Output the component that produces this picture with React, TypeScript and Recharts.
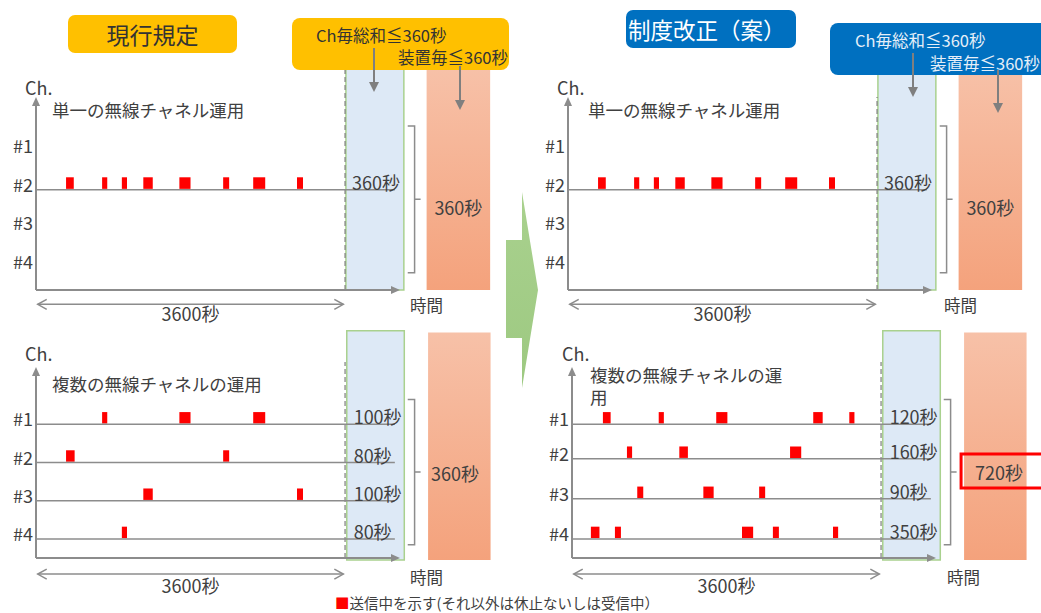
import React from 'react'
import {
  ComposedChart,
  XAxis,
  YAxis,
  ReferenceArea,
  ReferenceLine,
  ReferenceDot,
} from 'recharts'

const FONT = '"Noto Sans CJK JP", "Noto Sans", sans-serif'
const TEXT = '#404040'
const GRAY = '#8c8c8c'
const RED = '#ff0000'

// time axis in seconds: 3600 s window, the plot runs on a bit for the arrow head
const WINDOW = 3600
const X_MAX = 4240
const PLOT_W = 364
const PULSE_H = 0.3

type Pulse = [number, number]

const CH_LABELS = ['#1', '#2', '#3', '#4']

// single channel operation (same pattern in both panels), all on #2
const singlePulses: Pulse[] = [
  [350, 440], [770, 830], [1000, 1060], [1250, 1360],
  [1670, 1800], [2180, 2250], [2530, 2670], [3040, 3110],
]

// current rule, multi channel
const currentCh1: Pulse[] = [[770, 830], [1670, 1800], [2530, 2670]]
const currentCh2: Pulse[] = [[350, 450], [2180, 2250]]
const currentCh3: Pulse[] = [[1250, 1360], [3040, 3110]]
const currentCh4: Pulse[] = [[1000, 1060]]

// proposed rule, multi channel
const proposedCh1: Pulse[] = [[360, 450], [1010, 1070], [1680, 1810], [2810, 2920], [3230, 3290]]
const proposedCh2: Pulse[] = [[640, 700], [1250, 1350], [2540, 2670]]
const proposedCh3: Pulse[] = [[760, 830], [1530, 1650], [2180, 2250]]
const proposedCh4: Pulse[] = [[220, 320], [500, 570], [1980, 2110], [2340, 2410], [3040, 3100]]

const singleTotals = [null, '360秒', null, null]
const currentTotals = ['100秒', '80秒', '100秒', '80秒']
const proposedTotals = ['120秒', '160秒', '90秒', '350秒']
const deviceTotals = ['360秒', '360秒', '360秒', '720秒']

const arrowShape = (props: any) => {
  const { x1, y1, x2, y2 } = props
  const a = Math.atan2(y2 - y1, x2 - x1)
  const L = 9
  const W = 4
  const bx = x2 - L * Math.cos(a)
  const by = y2 - L * Math.sin(a)
  const px = -Math.sin(a) * W
  const py = Math.cos(a) * W
  return (
    <g>
      <line x1={x1} y1={y1} x2={bx} y2={by} stroke={GRAY} strokeWidth={2} />
      <polygon points={`${x2},${y2} ${bx + px},${by + py} ${bx - px},${by - py}`} fill={GRAY} />
    </g>
  )
}

const doubleArrowShape = (props: any) => {
  const { x1, y1, x2 } = props
  const y = y1
  return (
    <g fill="none" stroke={GRAY} strokeWidth={1.5}>
      <line x1={x1} y1={y} x2={x2} y2={y} />
      <polyline points={`${x1 + 9},${y - 5} ${x1},${y} ${x1 + 9},${y + 5}`} />
      <polyline points={`${x2 - 9},${y - 5} ${x2},${y} ${x2 - 9},${y + 5}`} />
    </g>
  )
}

const bracketShape = (props: any) => {
  const { x, y, width, height } = props
  const mid = y + height / 2
  return (
    <path
      d={`M${x},${y} H${x + width} V${y + height} H${x} M${x + width},${mid} h6`}
      fill="none"
      stroke={GRAY}
      strokeWidth={1.5}
    />
  )
}

const textShape =
  (text: string, size: number, anchor: 'start' | 'middle' | 'end', baseline: string, color = TEXT) =>
  (props: any) => (
    <text
      x={props.cx}
      y={props.cy}
      textAnchor={anchor}
      dominantBaseline={baseline}
      fontSize={size}
      fontFamily={FONT}
      fill={color}
    >
      {text}
    </text>
  )

type PanelProps = {
  id: string
  left: number
  top: number
  width: number
  height: number
  marginTop: number
  marginBottom: number
  levels: number[]
  pulses: Pulse[][]
  totals: (string | null)[]
  device: string
  highlight?: boolean
  blue: number[]
  orange: number[]
  dashTop: number
  totalX: number
  arrowY: number
  spanY: number
  timeAt: number[]
  deviceAt: number[]
}

function Panel(p: PanelProps) {
  const rows = p.levels.map((level) => ({ t: 0, level }))
  return (
    <div style={{ position: 'absolute', left: p.left, top: p.top }}>
      <ComposedChart
        width={p.width}
        height={p.height}
        data={rows}
        margin={{ top: p.marginTop, right: p.width - 36 - PLOT_W, bottom: p.marginBottom, left: 0 }}
      >
        <defs>
          <linearGradient id={`${p.id}-org`} x1="0" y1="0" x2="0" y2="1">
            <stop offset="0%" stopColor="#f7c1a8" />
            <stop offset="100%" stopColor="#f4a27c" />
          </linearGradient>
        </defs>
        <XAxis type="number" dataKey="t" domain={[0, X_MAX]} allowDataOverflow hide />
        <YAxis
          type="number"
          dataKey="level"
          domain={[0, 5]}
          allowDataOverflow
          ticks={p.levels}
          interval={0}
          width={36}
          axisLine={false}
          tickLine={false}
          tickSize={0}
          tickMargin={0}
          tick={({ x, y, payload }: any) => (
            <text
              x={x - 3}
              y={y - 6}
              textAnchor="end"
              dominantBaseline="central"
              fontSize={18}
              fontFamily={FONT}
              fill={TEXT}
            >
              {CH_LABELS[p.levels.indexOf(payload.value)]}
            </text>
          )}
        />

        {/* per-channel window and per-device total */}
        <ReferenceArea
          x1={p.blue[0]} x2={p.blue[1]} y1={p.blue[2]} y2={p.blue[3]}
          ifOverflow="visible" fill="#dde9f6" fillOpacity={1} stroke="#a9d18e" strokeWidth={1.5}
        />
        <ReferenceArea
          x1={p.orange[0]} x2={p.orange[1]} y1={p.orange[2]} y2={p.orange[3]}
          ifOverflow="visible" fill={`url(#${p.id}-org)`} fillOpacity={1}
        />
        <ReferenceArea
          x1={4330} x2={4410} y1={p.levels[3] - 0.15} y2={p.levels[0] + 0.65}
          ifOverflow="visible" shape={bracketShape}
        />
        {p.highlight && (
          <ReferenceArea
            x1={4532} x2={5560} y1={1.83} y2={2.72}
            ifOverflow="visible" fill="none" fillOpacity={0} stroke={RED} strokeWidth={3}
          />
        )}

        <ReferenceLine
          segment={[{ x: WINDOW, y: 0 }, { x: WINDOW, y: p.dashTop }]}
          ifOverflow="visible" stroke="#7f7f7f" strokeWidth={1.2} strokeDasharray="5 3"
        />
        {p.totals.map((tot, i) =>
          tot ? (
            <ReferenceLine
              key={`l${i}`}
              segment={[{ x: 0, y: p.levels[i] }, { x: 4180, y: p.levels[i] }]}
              ifOverflow="visible" stroke={GRAY} strokeWidth={1.5}
            />
          ) : null,
        )}
        <ReferenceLine segment={[{ x: 0, y: 0 }, { x: 0, y: 5 }]} ifOverflow="visible" shape={arrowShape} />
        <ReferenceLine segment={[{ x: 0, y: 0 }, { x: X_MAX, y: 0 }]} ifOverflow="visible" shape={arrowShape} />
        <ReferenceLine
          segment={[{ x: 20, y: p.arrowY }, { x: 3580, y: p.arrowY }]}
          ifOverflow="visible" shape={doubleArrowShape}
        />

        {p.pulses.map((list, ch) =>
          list.map(([s, e], k) => (
            <ReferenceArea
              key={`p${ch}-${k}`}
              x1={s} x2={e} y1={p.levels[ch] + 0.02} y2={p.levels[ch] + 0.02 + PULSE_H}
              fill={RED} fillOpacity={1}
            />
          )),
        )}

        {p.totals.map((tot, i) =>
          tot ? (
            <ReferenceDot
              key={`t${i}`} x={p.totalX} y={p.levels[i]} r={0} ifOverflow="visible"
              shape={textShape(tot, 18, 'start', 'auto')}
            />
          ) : null,
        )}
        <ReferenceDot
          x={WINDOW / 2} y={p.spanY} r={0} ifOverflow="visible"
          shape={textShape('3600秒', 18, 'middle', 'central')}
        />
        <ReferenceDot
          x={p.timeAt[0]} y={p.timeAt[1]} r={0} ifOverflow="visible"
          shape={textShape('時間', 16.5, 'start', 'central')}
        />
        <ReferenceDot
          x={p.deviceAt[0]} y={p.deviceAt[1]} r={0} ifOverflow="visible"
          shape={textShape(p.device, 18, 'middle', 'central')}
        />
      </ComposedChart>
    </div>
  )
}

const abs = (left: number, top: number, extra: React.CSSProperties = {}): React.CSSProperties => ({
  position: 'absolute',
  left,
  top,
  fontFamily: FONT,
  color: TEXT,
  whiteSpace: 'nowrap',
  ...extra,
})

function GrayArrow({ x, y1, y2 }: { x: number; y1: number; y2: number }) {
  return (
    <g>
      <line x1={x} y1={y1} x2={x} y2={y2 - 9} stroke="#7f7f7f" strokeWidth={2} />
      <polygon points={`${x},${y2} ${x - 5},${y2 - 10} ${x + 5},${y2 - 10}`} fill="#7f7f7f" />
    </g>
  )
}

export default function App() {
  const topPanel = {
    height: 330,
    marginTop: 97,
    marginBottom: 40,
    levels: [3.6, 2.6, 1.6, 0.6],
    blue: [3610, 4285, 0, 5.75],
    orange: [4550, 5290, 0, 5.75],
    totalX: 3680,
    arrowY: -0.37,
    spanY: -0.6,
    deviceAt: [4920, 2.15],
  }
  const bottomPanel = {
    height: 293,
    marginTop: 47,
    marginBottom: 55,
    blue: [3620, 4290, -0.05, 5.95],
    orange: [4567, 5295, -0.05, 5.9],
    dashTop: 5.13,
    totalX: 3700,
    arrowY: -0.42,
    spanY: -0.7,
  }

  return (
    <div
      style={{
        position: 'absolute',
        left: 0,
        top: 0,
        width: 1041,
        height: 613,
        background: '#fff',
        overflow: 'hidden',
        fontFamily: FONT,
      }}
    >
      <Panel
        id="tl" left={0} top={0} width={520} {...topPanel}
        pulses={[[], singlePulses, [], []]} totals={singleTotals} device={deviceTotals[0]}
        dashTop={5.7} timeAt={[4357, -0.39]}
      />
      <Panel
        id="tr" left={532} top={0} width={509} {...topPanel}
        pulses={[[], singlePulses, [], []]} totals={singleTotals} device={deviceTotals[1]}
        dashTop={5.0} timeAt={[4380, -0.39]}
      />
      <Panel
        id="bl" left={0} top={320} width={520} {...bottomPanel}
        levels={[3.5, 2.5, 1.5, 0.5]}
        pulses={[currentCh1, currentCh2, currentCh3, currentCh4]} totals={currentTotals}
        device={deviceTotals[2]} timeAt={[4357, -0.5]} deviceAt={[4881, 2.23]}
      />
      <Panel
        id="br" left={536} top={320} width={505} {...bottomPanel}
        levels={[3.5, 2.6, 1.55, 0.5]}
        pulses={[proposedCh1, proposedCh2, proposedCh3, proposedCh4]} totals={proposedTotals}
        device={deviceTotals[3]} highlight timeAt={[4369, -0.5]} deviceAt={[4975, 2.25]}
      />

      {/* axis and panel captions */}
      <div style={abs(25, 76, { fontSize: 18, lineHeight: '22px' })}>Ch.</div>
      <div style={abs(557, 76, { fontSize: 18, lineHeight: '22px' })}>Ch.</div>
      <div style={abs(25, 342, { fontSize: 18, lineHeight: '22px' })}>Ch.</div>
      <div style={abs(562, 342, { fontSize: 18, lineHeight: '22px' })}>Ch.</div>
      <div style={abs(52, 99, { fontSize: 17.5, lineHeight: '22px' })}>単一の無線チャネル運用</div>
      <div style={abs(588, 99, { fontSize: 17.5, lineHeight: '22px' })}>単一の無線チャネル運用</div>
      <div style={abs(52, 373, { fontSize: 17.5, lineHeight: '22px' })}>複数の無線チャネルの運用</div>
      <div style={abs(590, 364, { fontSize: 17.5, lineHeight: '22px', whiteSpace: 'normal', width: 200 })}>
        複数の無線チャネルの運用
      </div>

      {/* headers */}
      <div
        style={abs(68, 15, {
          width: 169, height: 38, background: '#ffc000', borderRadius: 7, color: '#333',
          fontSize: 23, lineHeight: '38px', textAlign: 'center',
        })}
      >
        現行規定
      </div>
      <div style={abs(292, 18, { width: 217, height: 52, background: '#ffc000', borderRadius: 8, color: '#333' })}>
        <div style={{ position: 'absolute', left: 24, top: 6, fontSize: 16.5, lineHeight: '22px' }}>Ch毎総和≦360秒</div>
        <div style={{ position: 'absolute', right: 1, top: 28, fontSize: 16.5, lineHeight: '22px' }}>装置毎≦360秒</div>
      </div>
      <div
        style={abs(626, 10, {
          width: 170, height: 38, background: '#0070c0', borderRadius: 7, color: '#fff',
          fontSize: 22.5, lineHeight: '38px', paddingLeft: 2, boxSizing: 'border-box',
        })}
      >
        制度改正（案）
      </div>
      <div style={abs(830, 23, { width: 230, height: 52, background: '#0070c0', borderRadius: 8, color: '#e6eff8' })}>
        <div style={{ position: 'absolute', left: 25, top: 6, fontSize: 16.5, lineHeight: '22px' }}>Ch毎総和≦360秒</div>
        <div style={{ position: 'absolute', left: 100, top: 29, fontSize: 16.5, lineHeight: '22px' }}>装置毎≦360秒</div>
      </div>

      {/* legend */}
      <div style={abs(335, 595, { fontSize: 14.5, lineHeight: '16px', color: TEXT })}>
        <span style={{ color: RED }}>■</span>送信中を示す(それ以外は休止ないしは受信中）
      </div>

      <svg width={1041} height={613} style={{ position: 'absolute', left: 0, top: 0, pointerEvents: 'none' }}>
        <defs>
          <linearGradient id="green" x1="0" y1="0" x2="0" y2="1">
            <stop offset="0%" stopColor="#a9d18e" />
            <stop offset="100%" stopColor="#9dc981" />
          </linearGradient>
        </defs>
        <polygon
          points="506,240 522,240 522,192 538,290 522,388 522,338 506,338"
          fill="url(#green)"
        />
        <GrayArrow x={374} y1={48} y2={92} />
        <GrayArrow x={460} y1={66} y2={110} />
        <GrayArrow x={913} y1={53} y2={97} />
        <GrayArrow x={998} y1={70} y2={113} />
      </svg>
    </div>
  )
}
